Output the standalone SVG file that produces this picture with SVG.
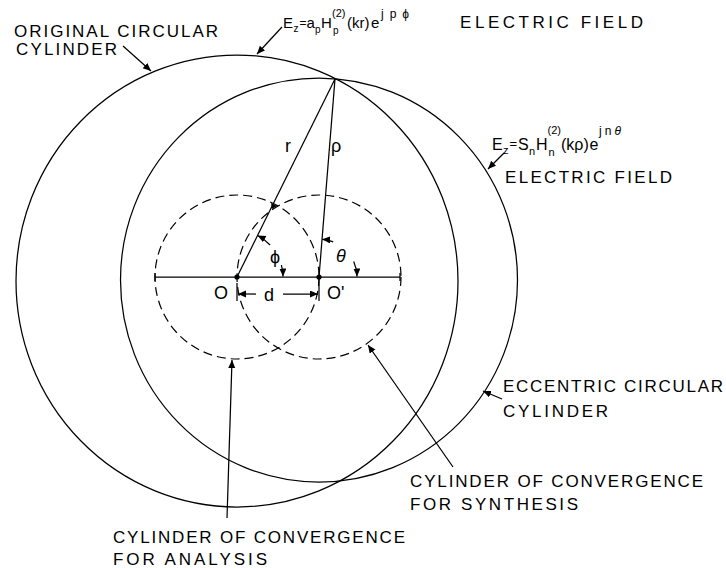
<svg xmlns="http://www.w3.org/2000/svg" width="726" height="568" viewBox="0 0 726 568">
<style>
.ln{fill:none;stroke:#000;stroke-width:1.25}
.ds{fill:none;stroke:#000;stroke-width:1.2;stroke-dasharray:9 5}
.lab{font-family:"Liberation Sans",Arial,sans-serif;font-size:17px;fill:#000}
.fm{font-family:"Liberation Sans",Arial,"DejaVu Sans",sans-serif;fill:#000}
.sym{font-family:"Liberation Sans",Arial,"DejaVu Sans",sans-serif;font-size:18px;fill:#000}
</style>
<defs>
<marker id="ah" markerUnits="userSpaceOnUse" markerWidth="10" markerHeight="8" refX="8" refY="3.5" orient="auto">
<path d="M0,0 L8,3.5 L0,7 Z" fill="#000"/>
</marker>
</defs>
<rect width="726" height="568" fill="#fff"/>

<g id="original-cylinder">
<ellipse class="ln" cx="237" cy="281" rx="221" ry="226"/>
</g>
<g id="eccentric-cylinder">
<ellipse class="ln" cx="319" cy="280" rx="198.5" ry="202"/>
</g>
<g id="analysis-circle">
<circle class="ds" cx="237" cy="277" r="82"/>
</g>
<g id="synthesis-circle">
<circle class="ds" cx="319" cy="277" r="82"/>
</g>

<g id="geometry">
<line class="ln" x1="155" y1="277" x2="400" y2="277"/>
<line class="ln" x1="155" y1="273" x2="155" y2="281"/>
<line class="ln" x1="400" y1="273" x2="400" y2="281"/>
<line class="ln" x1="237" y1="277" x2="335" y2="79"/>
<line class="ln" x1="319" y1="277" x2="335" y2="79"/>
<circle cx="237" cy="277" r="2.6" fill="#000"/>
<circle cx="319" cy="277" r="2.6" fill="#000"/>
<path d="M271,203 L277,206 L272,209 Z" fill="#000"/>
<path class="ln" d="M270.1,245 A46,46 0 0 0 257.6,235.5" marker-end="url(#ah)"/>
<path class="ln" d="M281.4,265.1 A46,46 0 0 1 283,276.5" marker-end="url(#ah)"/>
<path class="ln" d="M333.2,241.8 A38,38 0 0 0 322.2,239.3" marker-end="url(#ah)"/>
<path class="ln" d="M353.7,261.5 A38,38 0 0 1 357,276.5" marker-end="url(#ah)"/>
<line class="ln" x1="237" y1="283" x2="237" y2="301"/>
<line class="ln" x1="319" y1="277" x2="319" y2="301"/>
<line class="ln" x1="256" y1="294" x2="238" y2="294" marker-end="url(#ah)"/>
<line class="ln" x1="283" y1="294" x2="318" y2="294" marker-end="url(#ah)"/>
<text class="sym" x="285" y="152">r</text>
<text class="sym" x="331" y="152">ρ</text>
<text class="sym" x="270" y="263">ϕ</text>
<text class="sym" x="336" y="262" font-style="italic">θ</text>
<text class="sym" x="264" y="301">d</text>
<text class="sym" x="214" y="299">O</text>
<text class="sym" x="327" y="299">O'</text>
</g>

<g id="connectors">
<line class="ln" x1="123" y1="46" x2="151" y2="71" marker-end="url(#ah)"/>
<line class="ln" x1="282" y1="27" x2="257" y2="54" marker-end="url(#ah)"/>
<line class="ln" x1="504" y1="153" x2="488" y2="169" marker-end="url(#ah)"/>
<line class="ln" x1="502" y1="399" x2="483" y2="391" marker-end="url(#ah)"/>
<line class="ln" x1="453" y1="467" x2="368" y2="345" marker-end="url(#ah)"/>
<line class="ln" x1="227" y1="518" x2="232" y2="360" marker-end="url(#ah)"/>
</g>

<g id="label-original">
<text class="lab" x="14" y="37" textLength="204" lengthAdjust="spacing">ORIGINAL CIRCULAR</text>
<text class="lab" x="16" y="55" textLength="101" lengthAdjust="spacing">CYLINDER</text>
</g>

<g id="label-field-original">
<text class="fm" font-size="15" x="283" y="28">E</text>
<text class="fm" font-size="10" x="293.5" y="32">z</text>
<text class="fm" font-size="12" x="299.5" y="27">=</text>
<text class="fm" font-size="15" x="306.5" y="28">a</text>
<text class="fm" font-size="10" x="315" y="33">p</text>
<text class="fm" font-size="15" x="321" y="28">H</text>
<text class="fm" font-size="11" x="332" y="17">(2)</text>
<text class="fm" font-size="10" x="333" y="34">p</text>
<text class="fm" font-size="15" x="347" y="28">(kr)</text>
<text class="fm" font-size="15" x="371" y="28">e</text>
<text class="fm" font-size="12" x="381" y="18" textLength="28" lengthAdjust="spacing">jpϕ</text>
<text class="lab" x="460" y="28" textLength="183" lengthAdjust="spacing">ELECTRIC FIELD</text>
</g>

<g id="label-field-eccentric">
<text class="fm" font-size="16" x="492" y="150">E</text>
<text class="fm" font-size="11" x="503" y="154">z</text>
<text class="fm" font-size="13" x="509.5" y="148">=</text>
<text class="fm" font-size="16" x="518" y="150">S</text>
<text class="fm" font-size="11" x="529" y="155">n</text>
<text class="fm" font-size="16" x="536" y="150">H</text>
<text class="fm" font-size="11" x="547.5" y="134">(2)</text>
<text class="fm" font-size="11" x="548.5" y="156">n</text>
<text class="fm" font-size="16" x="561" y="150">(kρ)</text>
<text class="fm" font-size="16" x="589.5" y="150">e</text>
<text class="fm" font-size="12" x="599" y="135" textLength="22" lengthAdjust="spacing">jn<tspan font-style="italic">θ</tspan></text>
<text class="lab" x="505" y="183" textLength="167" lengthAdjust="spacing">ELECTRIC FIELD</text>
</g>

<g id="label-eccentric">
<text class="lab" x="503" y="392" textLength="220" lengthAdjust="spacing">ECCENTRIC CIRCULAR</text>
<text class="lab" x="503" y="417" textLength="105" lengthAdjust="spacing">CYLINDER</text>
</g>

<g id="label-synthesis">
<text class="lab" x="410" y="487" textLength="293" lengthAdjust="spacing">CYLINDER OF CONVERGENCE</text>
<text class="lab" x="410" y="510" textLength="168" lengthAdjust="spacing">FOR SYNTHESIS</text>
</g>

<g id="label-analysis">
<text class="lab" x="113" y="543" textLength="292" lengthAdjust="spacing">CYLINDER OF CONVERGENCE</text>
<text class="lab" x="113" y="565" textLength="154" lengthAdjust="spacing">FOR ANALYSIS</text>
</g>
</svg>
